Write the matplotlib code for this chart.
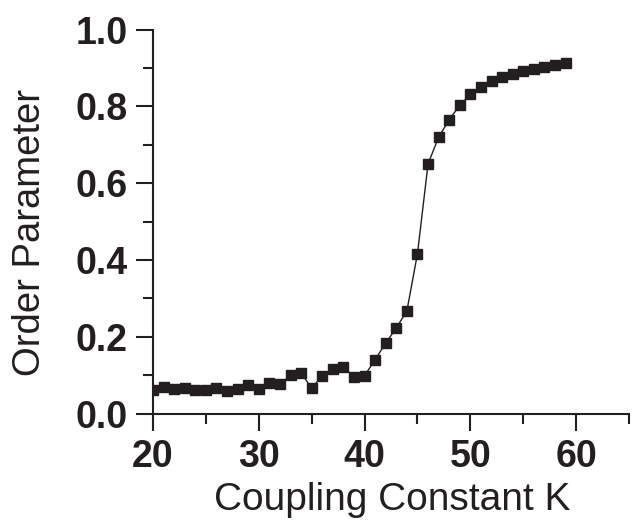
import matplotlib
matplotlib.use('Agg')
import matplotlib.pyplot as plt
from matplotlib.ticker import MultipleLocator

# coupling constant K and the measured order parameter
K = list(range(20, 60))
order = [0.062, 0.070, 0.065, 0.068, 0.061, 0.061, 0.068, 0.058, 0.063, 0.074,
         0.065, 0.081, 0.077, 0.100, 0.106, 0.066, 0.099, 0.117, 0.122, 0.096,
         0.099, 0.141, 0.184, 0.223, 0.268, 0.417, 0.651, 0.720, 0.766, 0.803,
         0.832, 0.851, 0.867, 0.876, 0.884, 0.893, 0.898, 0.904, 0.909, 0.914]

xticks = [20, 30, 40, 50, 60]
yticks = [0.0, 0.2, 0.4, 0.6, 0.8, 1.0]

plt.rcParams['font.family'] = ['Liberation Sans', 'DejaVu Sans']

fig = plt.figure(figsize=(6.4, 5.21), dpi=100)
ax = fig.add_axes([0.239, 0.206, 0.744, 0.737])
ink = '#231f20'
ax.plot(K, order, '-', color=ink, lw=1.0, marker='s', ms=7, mfc=ink, mec=ink)

ax.set_xlim(20, 65)
ax.set_ylim(0, 1.0)
ax.set_xticks(xticks)
ax.set_yticks(yticks)
ax.set_xticklabels([str(v) for v in xticks])
ax.set_yticklabels(['%.1f' % v for v in yticks])
ax.xaxis.set_minor_locator(MultipleLocator(5))
ax.yaxis.set_minor_locator(MultipleLocator(0.1))

for s in ['top', 'right']:
    ax.spines[s].set_visible(False)
for s in ['left', 'bottom']:
    ax.spines[s].set_linewidth(1.5)
    ax.spines[s].set_color(ink)

ax.tick_params(which='major', length=12, width=1.5, color=ink, pad=6, labelsize=27)
ax.tick_params(which='minor', length=7, width=1.5, color=ink)
for lab in ax.get_xticklabels() + ax.get_yticklabels():
    lab.set_fontweight('bold')
    lab.set_color(ink)

ax.set_xlabel('Coupling Constant K', fontsize=28, color=ink, va='baseline')
ax.xaxis.set_label_coords(0.502, -0.252)
ax.set_ylabel('Order Parameter', fontsize=27.5, color=ink, va='center')
ax.yaxis.set_label_coords(-0.258, 0.473)

fig.savefig('out.png', dpi=100)
plt.close()
